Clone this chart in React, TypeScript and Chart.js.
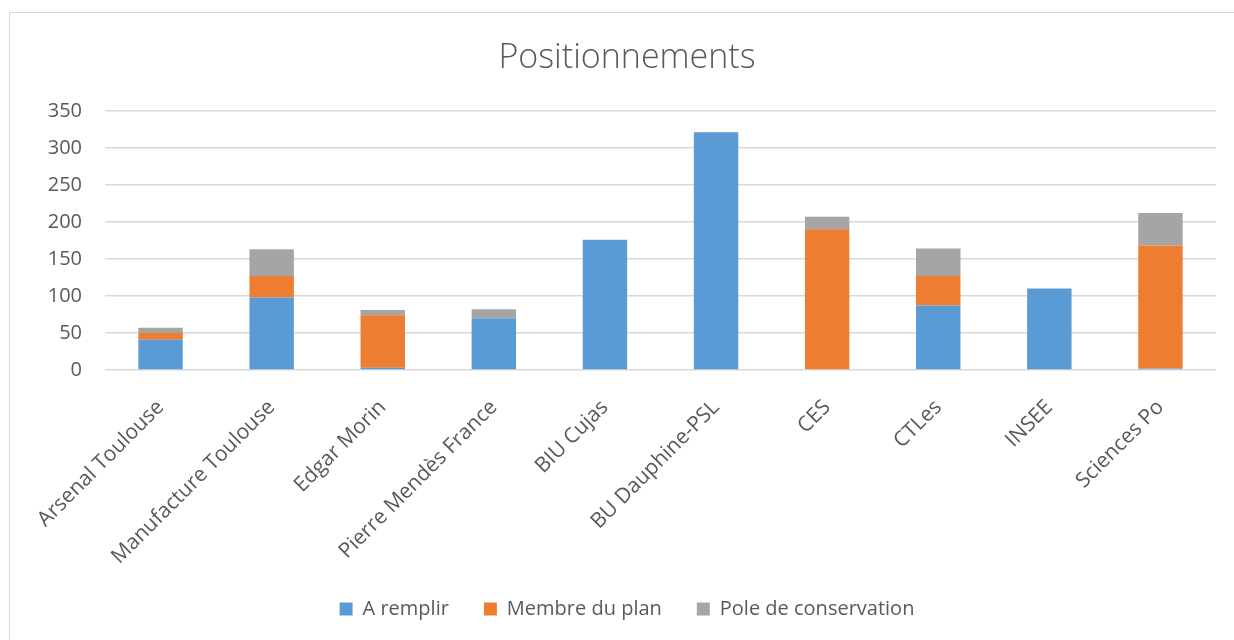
import React, { useEffect, useRef } from "react";
import { Chart, registerables } from "chart.js";

Chart.register(...registerables);

const categories = [
  "Arsenal Toulouse",
  "Manufacture Toulouse",
  "Edgar Morin",
  "Pierre Mendès France",
  "BIU Cujas",
  "BU Dauphine-PSL",
  "CES",
  "CTLes",
  "INSEE",
  "Sciences Po",
];
const aRemplir = [41, 98, 3, 70, 176, 321, 0, 87, 110, 2];
const membreDuPlan = [9, 29, 71, 0, 0, 0, 190, 40, 0, 166];
const poleDeConservation = [7, 36, 7, 12, 0, 0, 17, 37, 0, 44];
const seriesNames = ["A remplir", "Membre du plan", "Pole de conservation"];
const yTicks = [0, 50, 100, 150, 200, 250, 300, 350];

const FONT = "'Open Sans', 'DejaVu Sans', sans-serif";
const TEXT = "#595959";
const GRID = "#d9d9d9";

export default function App() {
  const ref = useRef<HTMLCanvasElement | null>(null);

  useEffect(() => {
    if (!ref.current) return;
    const chart = new Chart(ref.current, {
      type: "bar",
      data: {
        labels: categories,
        datasets: [
          { label: seriesNames[0], data: aRemplir, backgroundColor: "#5B9BD5", borderWidth: 0 },
          { label: seriesNames[1], data: membreDuPlan, backgroundColor: "#ED7D31", borderWidth: 0 },
          { label: seriesNames[2], data: poleDeConservation, backgroundColor: "#A5A5A5", borderWidth: 0 },
        ],
      },
      options: {
        animation: false,
        responsive: false,
        maintainAspectRatio: false,
        datasets: { bar: { barPercentage: 0.4, categoryPercentage: 1 } },
        layout: { padding: { left: 38, right: 38, top: 0, bottom: 11 } },
        plugins: {
          title: {
            display: true,
            text: "Positionnements",
            color: TEXT,
            font: { family: FONT, size: 34, weight: "300" as any },
            padding: { top: 38, bottom: 32 },
          },
          legend: {
            position: "bottom",
            labels: {
              color: TEXT,
              font: { family: FONT, size: 20 },
              boxWidth: 13,
              boxHeight: 13,
              padding: 35,
            },
          },
          tooltip: { enabled: false },
        },
        scales: {
          x: {
            stacked: true,
            grid: { display: false, drawTicks: false },
            border: { display: false },
            ticks: {
              color: TEXT,
              font: { family: FONT, size: 21 },
              minRotation: 45,
              maxRotation: 45,
              autoSkip: false,
              padding: 25,
            },
            afterFit: (s: any) => {
              s.height = 194;
            },
          },
          y: {
            stacked: true,
            min: 0,
            max: 350,
            afterBuildTicks: (s: any) => {
              s.ticks = yTicks.map((v) => ({ value: v }));
            },
            grid: { color: GRID, lineWidth: 1.5, drawTicks: false },
            border: { display: false },
            ticks: {
              color: TEXT,
              font: { family: FONT, size: 20 },
              padding: 23,
            },
            afterFit: (s: any) => {
              s.width = 67;
            },
          },
        },
      },
    });
    return () => chart.destroy();
  }, []);

  return (
    <div
      style={{
        position: "fixed",
        left: 0,
        top: 0,
        width: 1234,
        height: 640,
        overflow: "hidden",
        background: "#fff",
      }}
    >
      <div
        style={{
          position: "absolute",
          left: 9,
          top: 12,
          width: 1236,
          height: 700,
          border: "1px solid #d9d9d9",
        }}
      />
      <canvas
        ref={ref}
        width={1254}
        height={640}
        style={{ position: "absolute", left: 0, top: 0, width: 1254, height: 640 }}
      />
    </div>
  );
}
